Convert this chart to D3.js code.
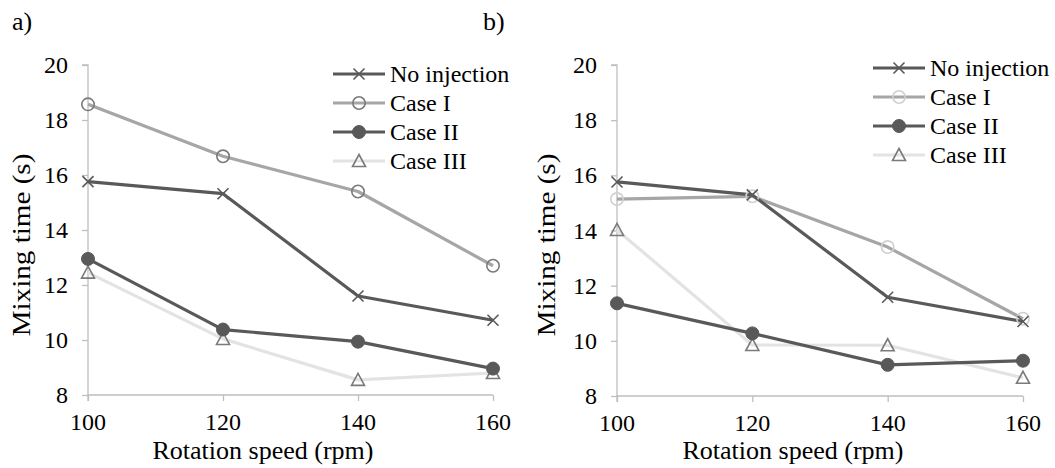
<!DOCTYPE html>
<html>
<head>
<meta charset="utf-8">
<script src="https://cdn.jsdelivr.net/npm/d3@7/dist/d3.min.js"></script>
<style>
  html, body { margin: 0; padding: 0; background: #fff; }
  svg { display: block; }
</style>
</head>
<body>
<svg id="chart" width="1055" height="468"></svg>
<script>
// ---- data ----
const speeds = [100, 120, 140, 160];
const yTicks = [8, 10, 12, 14, 16, 18, 20];
const seriesNames = ["No injection", "Case I", "Case II", "Case III"];

const aNoInjection = [15.76, 15.32, 11.60, 10.72];
const aCaseI       = [18.57, 16.68, 15.40, 12.70];
const aCaseII      = [12.95, 10.38, 9.94, 8.96];
const aCaseIII     = [12.45, 10.04, 8.55, 8.80];

const bNoInjection = [15.76, 15.29, 11.58, 10.70];
const bCaseI       = [15.14, 15.24, 13.40, 10.80];
const bCaseII      = [11.36, 10.27, 9.13, 9.28];
const bCaseIII     = [14.02, 9.85, 9.84, 8.66];

const panelLabels = ["a)", "b)"];
const xTitle = "Rotation speed (rpm)";
const yTitle = "Mixing time (s)";

// ---- drawing ----
const FONT = "Liberation Serif";
const svg = d3.select("#chart");

function styles(panel) {
  return [
    { line: "#595959", marker: "x", stroke: "#595959", fill: "none" },
    { line: "#a6a6a6", marker: "circle", stroke: panel === 0 ? "#7a7a7a" : "#d0d0d0", fill: "none" },
    { line: "#595959", marker: "dot", stroke: "#595959", fill: "#595959" },
    { line: "#e3e3e3", marker: "tri", stroke: "#7a7a7a", fill: "none" }
  ];
}

function drawMarker(g, type, st, cx, cy) {
  if (type === "x") {
    const s = 5.5;
    g.append("path")
      .attr("d", `M${cx - s},${cy - s}L${cx + s},${cy + s}M${cx - s},${cy + s}L${cx + s},${cy - s}`)
      .attr("stroke", st.stroke).attr("stroke-width", 1.6).attr("fill", "none");
  } else if (type === "circle") {
    g.append("circle").attr("cx", cx).attr("cy", cy).attr("r", 6.2)
      .attr("stroke", st.stroke).attr("stroke-width", 1.6).attr("fill", "none");
  } else if (type === "dot") {
    g.append("circle").attr("cx", cx).attr("cy", cy).attr("r", 6.5)
      .attr("stroke", st.stroke).attr("stroke-width", 1).attr("fill", st.fill);
  } else if (type === "tri") {
    const h = 6.5;
    g.append("path")
      .attr("d", `M${cx},${cy - h}L${cx + h},${cy + h * 0.85}L${cx - h},${cy + h * 0.85}Z`)
      .attr("stroke", st.stroke).attr("stroke-width", 1.6).attr("fill", "none");
  }
}

function txt(g, x, y, s, size, anchor) {
  return g.append("text").attr("x", x).attr("y", y).attr("text-anchor", anchor || "start")
    .style("font-family", FONT).style("font-size", size + "px").attr("fill", "#000").text(s);
}

function drawPanel(p, conf) {
  const x = d3.scaleLinear().domain([100, 160]).range([conf.x0, conf.x1]);
  const y = d3.scaleLinear().domain([8, 20]).range([conf.yb, conf.yt]);
  const g = svg.append("g");
  const st = styles(p);

  // y axis (lines from d3 axis, labels drawn as own text)
  const yAxis = g.append("g").attr("transform", `translate(${conf.x0},0)`)
    .call(d3.axisLeft(y).tickValues(yTicks).tickSize(6).tickFormat(""));
  yAxis.select(".domain").attr("stroke", "#bfbfbf").attr("stroke-width", 1.3).attr("d", `M-6,${conf.yt}H0V${conf.yb}`);
  yAxis.selectAll(".tick line").attr("stroke", "#bfbfbf").attr("stroke-width", 1.3);
  yTicks.forEach(t => txt(g, conf.x0 - 20, y(t) + 8, String(t), 24, "end"));

  // x axis
  const xAxis = g.append("g").attr("transform", `translate(0,${conf.yb})`)
    .call(d3.axisBottom(x).tickValues(speeds).tickSize(6).tickFormat(""));
  xAxis.select(".domain").attr("stroke", "#bfbfbf").attr("stroke-width", 1.3).attr("d", `M${conf.x0},6V0H${conf.x1}`);
  xAxis.selectAll(".tick line").attr("stroke", "#bfbfbf").attr("stroke-width", 1.3);
  speeds.forEach(s => txt(g, x(s), conf.yb + 35, String(s), 24, "middle"));

  // titles
  txt(g, conf.xtx, 459, xTitle, 26, "middle");
  g.append("text").attr("transform", `translate(${conf.ytx},${conf.yty}) rotate(-90) scale(1.12,1)`)
    .attr("text-anchor", "middle")
    .style("font-family", FONT).style("font-size", "26px").attr("fill", "#000").text(yTitle);
  txt(g, conf.lx, conf.ly, panelLabels[p], 26);

  // series
  const line = d3.line().x((d, i) => x(speeds[i])).y(d => y(d));
  const order = [3, 1, 0, 2];
  order.forEach(si => {
    g.append("path").datum(conf.data[si]).attr("d", line)
      .attr("fill", "none").attr("stroke", st[si].line).attr("stroke-width", 3.2)
      .attr("stroke-linejoin", "round");
  });
  order.forEach(si => {
    conf.data[si].forEach((v, i) => drawMarker(g, st[si].marker, st[si], x(speeds[i]), y(v)));
  });

  // legend
  seriesNames.forEach((name, si) => {
    const ly = conf.legY + si * 29;
    g.append("line").attr("x1", conf.legX).attr("x2", conf.legX + 52).attr("y1", ly).attr("y2", ly)
      .attr("stroke", st[si].line).attr("stroke-width", 3.2);
    drawMarker(g, st[si].marker, st[si], conf.legX + 26, ly);
    txt(g, conf.legX + 57, ly + 8, name, 24);
  });
}

drawPanel(0, {
  x0: 88, x1: 493, yt: 65, yb: 395,
  xtx: 263, ytx: 30, yty: 245, lx: 12, ly: 30,
  legX: 333, legY: 74,
  data: [aNoInjection, aCaseI, aCaseII, aCaseIII]
});
drawPanel(1, {
  x0: 617, x1: 1023, yt: 65, yb: 396,
  xtx: 793, ytx: 555, yty: 245, lx: 483, ly: 30,
  legX: 873, legY: 68,
  data: [bNoInjection, bCaseI, bCaseII, bCaseIII]
});
</script>
</body>
</html>
